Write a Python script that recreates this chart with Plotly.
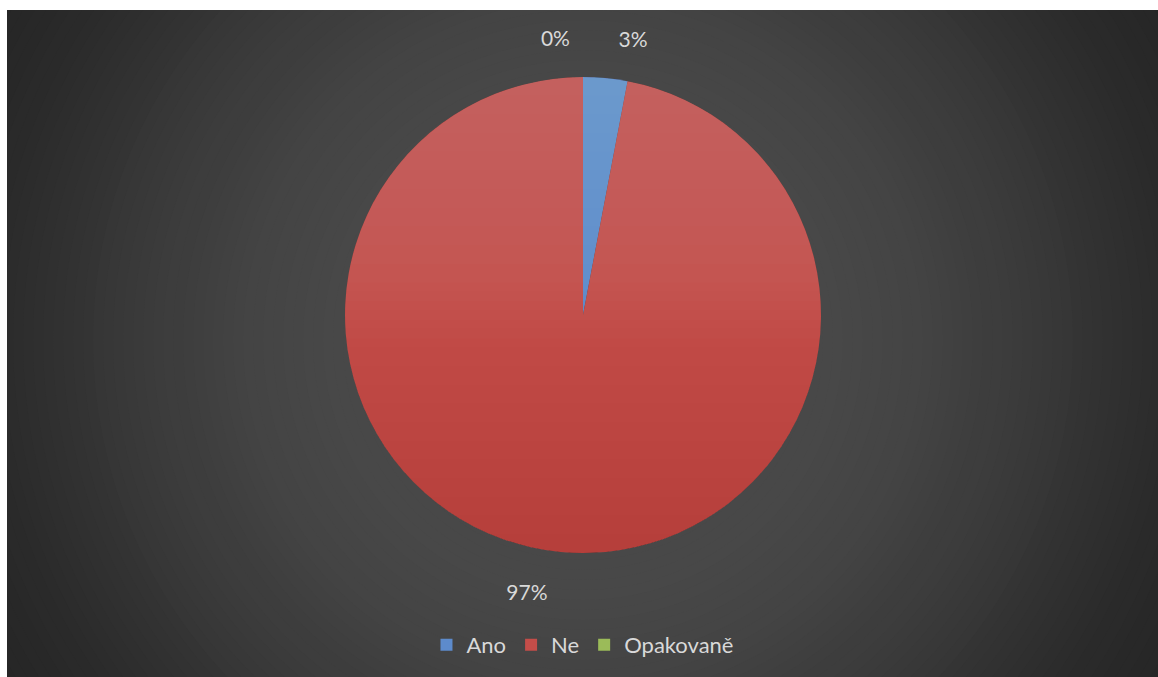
import math
import plotly.graph_objects as go

# Survey answers and their shares (percent)
categories = ["Ano", "Ne", "Opakovaně"]
shares = [3, 97, 0]
slice_colors = ["#5d8bcc", "#c44d49", "#9bbb59"]
label_templates = ["%{value}%<br> ", " <br>%{value}%", "%{value}%<br> "]

W, H = 1158, 677
# dark chart area inside a thin white frame (pixels)
AREA_X0, AREA_Y0 = 7, 10
GLOW_CX, GLOW_CY = 583, 340          # centre of the radial background glow
PIE_CX, PIE_TOP, PIE_BOTTOM = 583, 77, 553
PIE_R = (PIE_BOTTOM - PIE_TOP) / 2
PIE_CY = (PIE_BOTTOM + PIE_TOP) / 2

# grey level of the background glow against distance from its centre (px)
GLOW_STOPS = [(0, 0x4c), (250, 0x48), (335, 0x44), (450, 0x3a), (575, 0x2c), (700, 0x24)]


def px(x):
    return x / W


def py(y):
    return 1 - y / H


def glow_grey(d):
    for (d0, v0), (d1, v1) in zip(GLOW_STOPS, GLOW_STOPS[1:]):
        if d <= d1:
            v = v0 + (v1 - v0) * (d - d0) / (d1 - d0)
            break
    else:
        v = GLOW_STOPS[-1][1]
    v = round(v)
    return f"rgb({v},{v},{v})"


shapes = [dict(type="rect", xref="paper", yref="paper",
               x0=0, x1=1, y0=0, y1=1, line_width=0,
               fillcolor=glow_grey(10_000), layer="below")]

steps = 70
r_max = 700
for k in range(steps):
    r = r_max * (1 - k / steps)
    shapes.append(dict(
        type="circle", xref="paper", yref="paper", layer="below",
        x0=px(GLOW_CX - r), x1=px(GLOW_CX + r),
        y0=py(GLOW_CY + r), y1=py(GLOW_CY - r),
        line_width=0, fillcolor=glow_grey(r),
    ))


def cap_path(y_cut, top=True, n=72):
    """Closed path of the part of the pie disc above (or below) a horizontal cut."""
    c = max(-1.0, min(1.0, (PIE_CY - y_cut) / PIE_R))
    half = math.acos(c) if top else math.acos(-c)
    base = 0.0 if top else math.pi
    pts = []
    for i in range(n + 1):
        th = base - half + 2 * half * i / n
        x = PIE_CX + PIE_R * math.sin(th)
        y = PIE_CY - PIE_R * math.cos(th)
        pts.append(f"{px(x):.6f},{py(y):.6f}")
    return "M" + " L".join(pts) + " Z"


# soft vertical shading on the pie: lighter towards the top, deeper at the bottom
shade_steps = 14
for k in range(1, shade_steps + 1):
    y_top = PIE_TOP + PIE_R * 1.1 * k / shade_steps
    shapes.append(dict(type="path", xref="paper", yref="paper", layer="above",
                       path=cap_path(y_top, top=True), line_width=0,
                       fillcolor="rgba(255,255,255,0.012)"))
    y_bot = PIE_BOTTOM - PIE_R * 1.1 * k / shade_steps
    shapes.append(dict(type="path", xref="paper", yref="paper", layer="above",
                       path=cap_path(y_bot, top=False), line_width=0,
                       fillcolor="rgba(90,0,0,0.007)"))

# white frame strips drawn over the glow
shapes += [
    dict(type="rect", xref="paper", yref="paper", layer="above",
         x0=0, x1=1, y0=py(AREA_Y0), y1=1, line_width=0, fillcolor="white"),
    dict(type="rect", xref="paper", yref="paper", layer="above",
         x0=0, x1=px(AREA_X0), y0=0, y1=1, line_width=0, fillcolor="white"),
]

fig = go.Figure(go.Pie(
    labels=categories,
    values=shares,
    sort=False,
    direction="clockwise",
    rotation=0,
    marker=dict(colors=slice_colors, line=dict(width=0)),
    textinfo="percent",
    texttemplate=label_templates,
    textposition="outside",
    textfont=dict(family="Lato, 'Open Sans', sans-serif", size=21, color="#d9d9d9"),
    hoverinfo="label+percent",
    domain=dict(x=[px(PIE_CX - PIE_R - 20), px(PIE_CX + PIE_R + 20)],
                y=[py(PIE_BOTTOM), py(PIE_TOP)]),
))

fig.update_layout(
    width=W, height=H,
    margin=dict(l=0, r=0, t=0, b=0, autoexpand=False),
    paper_bgcolor="white",
    shapes=shapes,
    showlegend=True,
    legend=dict(
        orientation="h", x=0.503, xanchor="center", y=py(645), yanchor="middle",
        font=dict(family="Lato, 'Open Sans', sans-serif", size=22, color="#d9d9d9"),
        bgcolor="rgba(0,0,0,0)", itemwidth=30, tracegroupgap=0,
    ),
)

fig.write_html("out.html")
